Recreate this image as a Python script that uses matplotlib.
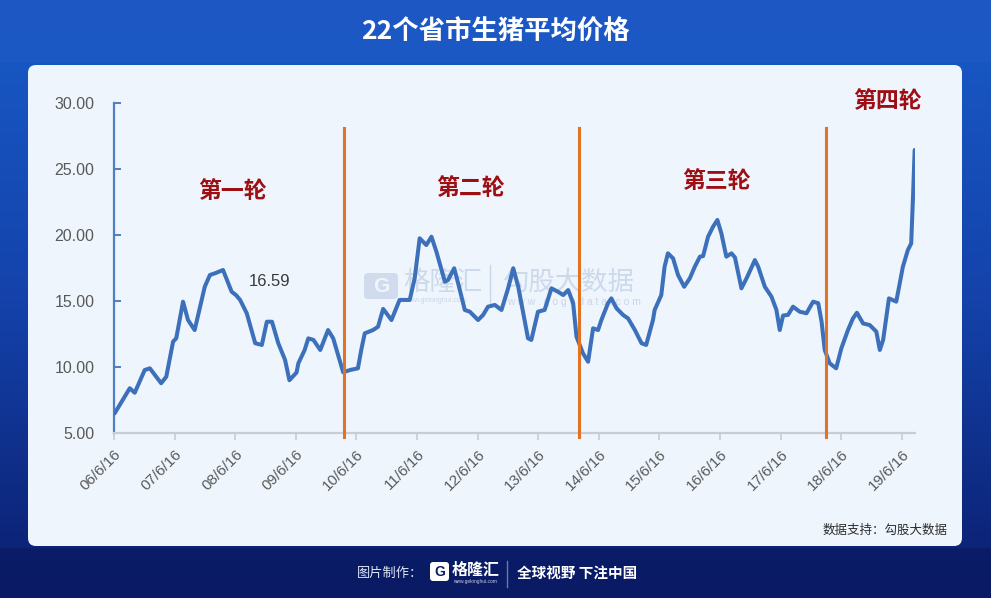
import matplotlib
matplotlib.use("Agg")
import matplotlib.pyplot as plt
from matplotlib.patches import FancyBboxPatch, Rectangle
import numpy as np
import pandas as pd

plt.rcParams['font.family'] = ['Liberation Sans', 'Noto Sans CJK SC', 'DejaVu Sans']
CJK = ['Noto Sans CJK SC', 'DejaVu Sans']

# ---------------- data ----------------
title = "22个省市生猪平均价格"
dates = [
    "2006-06-20", "2006-07-20", "2006-09-19", "2006-10-19", "2006-12-18", "2007-01-18",
    "2007-03-27", "2007-04-27", "2007-06-07", "2007-06-26", "2007-08-06", "2007-09-05",
    "2007-10-15", "2007-12-15", "2008-01-15", "2008-02-15", "2008-04-03", "2008-05-25",
    "2008-06-20", "2008-07-15", "2008-08-24", "2008-10-14", "2008-11-23", "2008-12-23",
    "2009-01-23", "2009-03-02", "2009-04-12", "2009-05-08", "2009-06-20", "2009-07-01",
    "2009-08-08", "2009-08-30", "2009-09-30", "2009-11-10", "2009-12-27", "2010-01-27",
    "2010-03-28", "2010-05-08", "2010-06-25", "2010-07-15", "2010-08-05", "2010-09-24",
    "2010-10-24", "2010-11-24", "2011-01-13", "2011-03-03", "2011-05-03", "2011-06-02",
    "2011-07-02", "2011-08-11", "2011-09-11", "2011-10-11", "2011-12-01", "2011-12-20",
    "2012-01-26", "2012-02-19", "2012-03-30", "2012-04-29", "2012-06-18", "2012-07-18",
    "2012-08-17", "2012-09-27", "2012-11-06", "2012-12-16", "2013-01-16", "2013-02-15",
    "2013-04-15", "2013-05-05", "2013-06-14", "2013-07-24", "2013-09-03", "2013-10-13",
    "2013-11-13", "2013-12-13", "2014-01-12", "2014-02-01", "2014-03-12", "2014-04-12",
    "2014-05-12", "2014-06-11", "2014-07-01", "2014-08-10", "2014-08-30", "2014-09-30",
    "2014-11-09", "2014-12-09", "2015-01-19", "2015-02-28", "2015-03-28", "2015-05-08",
    "2015-05-18", "2015-06-27", "2015-07-17", "2015-08-06", "2015-09-06", "2015-10-06",
    "2015-11-12", "2015-12-16", "2016-01-15", "2016-02-15", "2016-03-05", "2016-04-04",
    "2016-05-04", "2016-05-30", "2016-06-23", "2016-07-23", "2016-08-23", "2016-09-13",
    "2016-10-22", "2016-11-22", "2017-01-11", "2017-01-31", "2017-03-12", "2017-04-21",
    "2017-05-21", "2017-06-10", "2017-06-30", "2017-07-30", "2017-08-29", "2017-10-08",
    "2017-11-18", "2017-12-28", "2018-01-28", "2018-02-17", "2018-03-08", "2018-04-07",
    "2018-05-16", "2018-06-16", "2018-07-26", "2018-08-25", "2018-09-18", "2018-10-25",
    "2018-12-04", "2019-01-13", "2019-02-03", "2019-02-23", "2019-03-30", "2019-05-13",
    "2019-06-22", "2019-07-22", "2019-08-11", "2019-08-22", "2019-09-01",
]
prices = [
    6.49, 7.12, 8.39, 8.05, 9.77, 9.90,
    8.77, 9.26, 11.92, 12.17, 14.95, 13.56,
    12.80, 16.08, 16.97, 17.10, 17.35, 15.70,
    15.45, 15.08, 14.07, 11.80, 11.67, 13.43,
    13.43, 11.80, 10.53, 9.00, 9.58, 10.28,
    11.29, 12.17, 12.05, 11.29, 12.80, 12.17,
    9.60, 9.77, 9.90, 11.29, 12.55, 12.80,
    13.05, 14.40, 13.56, 15.08, 15.08, 16.72,
    19.75, 19.24, 19.87, 18.73, 16.46, 16.59,
    17.48, 16.34, 14.32, 14.19, 13.56, 13.94,
    14.57, 14.70, 14.32, 15.96, 17.48, 16.08,
    12.17, 12.05, 14.19, 14.32, 15.96, 15.70,
    15.45, 15.83, 14.83, 12.30, 11.04, 10.40,
    12.93, 12.80, 13.56, 14.83, 15.20, 14.45,
    13.94, 13.68, 12.80, 11.80, 11.67, 13.56,
    14.32, 15.45, 17.60, 18.61, 18.23, 16.97,
    16.08, 16.72, 17.60, 18.36, 18.40, 19.87,
    20.63, 21.14, 20.13, 18.36, 18.61, 18.30,
    15.96, 16.72, 18.10, 17.60, 16.08, 15.33,
    14.32, 12.80, 13.90, 13.95, 14.57, 14.19,
    14.07, 14.95, 14.83, 13.43, 11.29, 10.28,
    9.90, 11.41, 12.80, 13.68, 14.11, 13.30,
    13.18, 12.68, 11.29, 12.05, 15.20, 14.95,
    17.60, 18.86, 19.36, 22.90, 26.44,
]
cycle_breaks = ["2010-04-04", "2014-02-14", "2018-03-13"]
cycle_labels = ["第一轮", "第二轮", "第三轮", "第四轮"]
cycle_label_dates = ["2008-05-28", "2012-05-01", "2016-05-22", "2019-03-19"]
cycle_label_values = [23.26, 23.56, 24.09, 30.15]
annot_text = "16.59"
annot_date = "2009-01-06"
annot_value = 16.5
tick_dates = [f"{y}-06-16" for y in range(2006, 2020)]
yticks = [5, 10, 15, 20, 25, 30]
source = "数据支持：勾股大数据"

W, H = 991, 598
fig = plt.figure(figsize=(W / 100, H / 100), dpi=100)

# ---------------- background ----------------
bg = fig.add_axes([0, 0, 1, 1], zorder=-10)
bg.set_xlim(0, W)
bg.set_ylim(H, 0)
bg.axis('off')
stops_y = [0, 60, 300, 547, 548, 598]
stops_c = np.array([[24, 84, 196], [24, 86, 194], [20, 66, 170], [12, 36, 120],
                    [11, 28, 104], [10, 26, 100]]) / 255.0
yy = np.arange(H)
grad = np.stack([np.interp(yy, stops_y, stops_c[:, k]) for k in range(3)], axis=-1)
grad = np.repeat(grad[:, None, :], 2, axis=1)
bg.imshow(grad, extent=[0, W, H, 0], aspect='auto', zorder=0)
bg.add_patch(Rectangle((0, 0), W, 62, color='white', alpha=0.02, lw=0, zorder=1))

panel = FancyBboxPatch((28, 65), 934, 481, boxstyle="round,pad=0,rounding_size=8",
                       fc='#eef5fc', ec='none', zorder=2)
bg.add_patch(panel)

bg.text(W / 2, 32, title, color='white', fontsize=19, fontweight='bold',
        ha='center', va='center', family=CJK, zorder=3)

bg.text(948, 530, source, color='#2b2b2b', fontsize=9, ha='right', va='center',
        family=CJK, zorder=3)

# watermark
wm = '#c9d6ea'
bg.add_patch(FancyBboxPatch((364, 273), 34, 26, boxstyle="round,pad=0,rounding_size=4",
                            fc=wm, ec='none', alpha=0.8, zorder=3))
bg.text(381, 286, "G", color='#eef5fc', fontsize=15, fontweight='bold',
        ha='center', va='center', zorder=3.1)
bg.text(403, 282, "格隆汇", color=wm, fontsize=19, ha='left', va='center',
        family=CJK, zorder=3, alpha=0.9)
bg.text(404, 301, "www.gelonghui.com", color=wm, fontsize=5, ha='left', va='center',
        zorder=3)
bg.plot([490, 490], [265, 305], color=wm, lw=1, zorder=3)
bg.text(503, 282, "勾股大数据", color=wm, fontsize=19, ha='left', va='center',
        family=CJK, zorder=3, alpha=0.9)
bg.text(507, 302, "w w w . g o g u d a t a . c o m", color=wm, fontsize=7.5,
        ha='left', va='center', zorder=3)

# footer
bg.text(357, 573, "图片制作：", color='#dfe6f5', fontsize=9.5, ha='left', va='center',
        family=CJK, zorder=3)
bg.add_patch(FancyBboxPatch((430, 562), 19, 19, boxstyle="round,pad=0,rounding_size=3",
                            fc='white', ec='none', zorder=3))
bg.text(439.5, 572, "G", color='#0b1c68', fontsize=10, fontweight='bold',
        ha='center', va='center', zorder=3.1)
bg.text(452, 570, "格隆汇", color='white', fontsize=11.5, fontweight='bold',
        ha='left', va='center', family=CJK, zorder=3)
bg.text(453, 582, "www.gelonghui.com", color='#c8d0e8', fontsize=3.5, ha='left',
        va='center', zorder=3)
bg.plot([507, 507], [561, 587], color='#6a78b0', lw=1, zorder=3)
bg.text(517, 573, "全球视野 下注中国", color='white', fontsize=10.5, fontweight='bold',
        ha='left', va='center', family=CJK, zorder=3)

# ---------------- chart ----------------
ax = fig.add_axes([114 / W, 1 - 433 / H, (915 - 114) / W, (433 - 103) / H])
ax.set_facecolor('none')
d = pd.to_datetime(dates)
ax.plot(d, prices, color='#3d70ba', lw=2.9, solid_joinstyle='round',
        solid_capstyle='round', zorder=3)

for b in pd.to_datetime(cycle_breaks):
    ax.plot([b, b], [4.7, 28.1], color='#e07424', lw=2.2, zorder=4, clip_on=False)

for lab, ld, lv in zip(cycle_labels, pd.to_datetime(cycle_label_dates), cycle_label_values):
    ax.text(ld, lv, lab, color='#9e0f14', fontsize=16.5, fontweight='bold',
            ha='center', va='center', family=CJK, clip_on=False)

ax.text(pd.to_datetime(annot_date), annot_value, annot_text, color='#3a3a3a',
        fontsize=12, ha='center', va='center')

ax.set_xlim(pd.Timestamp("2006-06-16"), pd.Timestamp("2019-09-03"))
ax.set_ylim(5, 30)
ax.set_yticks(yticks)
ax.set_yticklabels([f"{v:.2f}" for v in yticks])
ax.set_xticks(pd.to_datetime(tick_dates))
ax.set_xticklabels([f"{t.strftime('%y')}/{t.month}/{t.day}" for t in pd.to_datetime(tick_dates)])

for s in ['top', 'right']:
    ax.spines[s].set_visible(False)
ax.spines['left'].set_color('#4f7fc2')
ax.spines['left'].set_linewidth(1.6)
ax.spines['bottom'].set_color('#c9cdd3')
ax.spines['bottom'].set_linewidth(1.6)

ax.tick_params(axis='y', direction='in', length=5, width=1.4, color='#4f7fc2',
               labelsize=11.5, labelcolor='#595959', pad=14)
ax.tick_params(axis='x', direction='out', length=5, width=1.2, color='#c9cdd3',
               labelsize=11, labelcolor='#595959', pad=5)
for lbl in ax.get_xticklabels():
    lbl.set_rotation(45)
    lbl.set_ha('right')
    lbl.set_rotation_mode('anchor')

fig.savefig("out.png", dpi=100)
